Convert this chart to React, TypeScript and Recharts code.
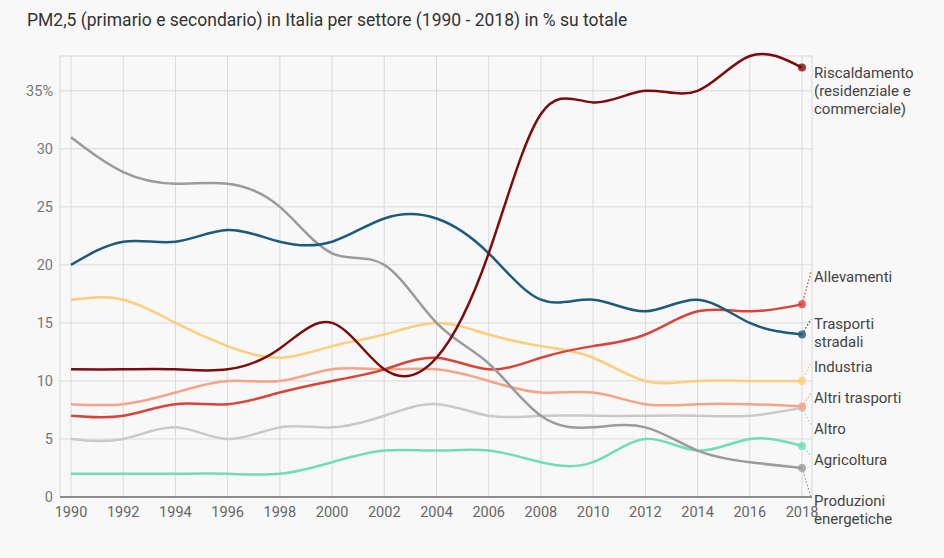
import React from 'react';
import { LineChart, Line, XAxis, YAxis, CartesianGrid } from 'recharts';

const years = [1990, 1992, 1994, 1996, 1998, 2000, 2002, 2004, 2006, 2008, 2010, 2012, 2014, 2016, 2018];
const yTicks = [0, 5, 10, 15, 20, 25, 30, 35];

const riscaldamento = [11, 11, 11, 11, 12.8, 15, 11, 12, 21, 33, 34, 35, 35, 38, 37];
const trasportiStradali = [20, 22, 22, 23, 22, 22, 24, 24, 21, 17, 17, 16, 17, 15, 14];
const produzioniEnergetiche = [31, 28, 27, 27, 25, 21, 20, 15, 11.5, 7, 6, 6, 4, 3, 2.5];
const industria = [17, 17, 15, 13, 12, 13, 14, 15, 14, 13, 12, 10, 10, 10, 10];
const allevamenti = [7, 7, 8, 8, 9, 10, 11, 12, 11, 12, 13, 14, 16, 16, 16.6];
const altriTrasporti = [8, 8, 9, 10, 10, 11, 11, 11, 10, 9, 9, 8, 8, 8, 7.8];
const altro = [5, 5, 6, 5, 6, 6, 7, 8, 7, 7, 7, 7, 7, 7, 7.7];
const agricoltura = [2, 2, 2, 2, 2, 3, 4, 4, 4, 3, 3, 5, 4, 5, 4.4];

const series = [
  { key: 'altro', values: altro, color: '#c9c9c9', label: ['Altro'] },
  { key: 'agricoltura', values: agricoltura, color: '#71dcb9', label: ['Agricoltura'] },
  { key: 'altriTrasporti', values: altriTrasporti, color: '#f7a38a', label: ['Altri trasporti'] },
  { key: 'industria', values: industria, color: '#fccd7b', label: ['Industria'] },
  { key: 'allevamenti', values: allevamenti, color: '#d9443a', label: ['Allevamenti'] },
  { key: 'produzioni', values: produzioniEnergetiche, color: '#9b9b9b', label: ['Produzioni', 'energetiche'] },
  { key: 'trasporti', values: trasportiStradali, color: '#1d5b79', label: ['Trasporti', 'stradali'] },
  { key: 'riscaldamento', values: riscaldamento, color: '#7b0c0c', label: ['Riscaldamento', '(residenziale e', 'commerciale)'] },
];

// layout: vertical centre of each end label's first line (px, chart coordinates)
const labelY: Record<string, number> = {
  riscaldamento: 73,
  allevamenti: 277,
  trasporti: 324,
  industria: 367,
  altriTrasporti: 398,
  altro: 429,
  agricoltura: 460,
  produzioni: 501,
};

const data = years.map((year, i) => {
  const row: Record<string, number> = { year };
  series.forEach((s) => {
    row[s.key] = s.values[i];
  });
  return row;
});

const FONT = 'Roboto, "Noto Sans", sans-serif';
const LABEL_X = 814;

const makeDot = (s: (typeof series)[number]) => (props: any) => {
  const { cx, cy, index } = props;
  if (index !== years.length - 1 || cx == null || cy == null) {
    return <g key={`${s.key}-dot-${index}`} />;
  }
  const ly = labelY[s.key];
  const showLeader = Math.abs(ly - cy) > 6;
  return (
    <g key={`${s.key}-dot-${index}`}>
      {showLeader && (
        <line
          x1={cx}
          y1={cy}
          x2={LABEL_X - 3}
          y2={ly + (ly < cy ? -5 : -4)}
          stroke={s.color}
          strokeWidth={1.3}
          strokeDasharray="1.5 2"
        />
      )}
      <circle cx={cx} cy={cy} r={4} fill={s.color} fillOpacity={0.8} />
      <text x={LABEL_X} y={ly} fontFamily={FONT} fontSize={15} fill="#444" dominantBaseline="central">
        {s.label.map((t, j) => (
          <tspan key={j} x={LABEL_X} dy={j === 0 ? 0 : 18}>
            {t}
          </tspan>
        ))}
      </text>
    </g>
  );
};

export default function App() {
  return (
    <div
      style={{
        position: 'absolute',
        left: 0,
        top: 0,
        width: 944,
        height: 558,
        background: '#f8f8f8',
        overflow: 'hidden',
      }}
    >
      <div
        style={{
          position: 'absolute',
          left: 27,
          top: 10,
          fontFamily: FONT,
          fontSize: 17.5,
          color: '#333',
          whiteSpace: 'nowrap',
        }}
      >
        PM2,5 (primario e secondario) in Italia per settore (1990 - 2018) in % su totale
      </div>
      <div style={{ position: 'absolute', left: 0, top: 0 }}>
        <LineChart width={944} height={558} data={data} margin={{ top: 56, right: 132, left: 0, bottom: 31 }}>
          <CartesianGrid stroke="#dadada" strokeWidth={1} />
          <XAxis
            dataKey="year"
            type="number"
            domain={[1990, 2018]}
            ticks={years}
            padding={{ left: 11, right: 10 }}
            height={30}
            tickSize={0}
            tickMargin={10}
            axisLine={{ stroke: '#333', strokeWidth: 1.2 }}
            tick={{ fill: '#666', fontSize: 14.5, fontFamily: FONT }}
            interval={0}
          />
          <YAxis
            type="number"
            domain={[0, 38]}
            ticks={yTicks}
            width={60}
            tickSize={0}
            tickMargin={7}
            axisLine={false}
            tick={{ fill: '#777', fontSize: 14.5, fontFamily: FONT }}
            tickFormatter={(v: number) => (v === 35 ? '35%' : String(v))}
          />
          {series.map((s) => (
            <Line
              key={s.key}
              type="natural"
              dataKey={s.key}
              stroke={s.color}
              strokeWidth={2.5}
              dot={makeDot(s)}
              activeDot={false}
              isAnimationActive={false}
            />
          ))}
        </LineChart>
      </div>
    </div>
  );
}
